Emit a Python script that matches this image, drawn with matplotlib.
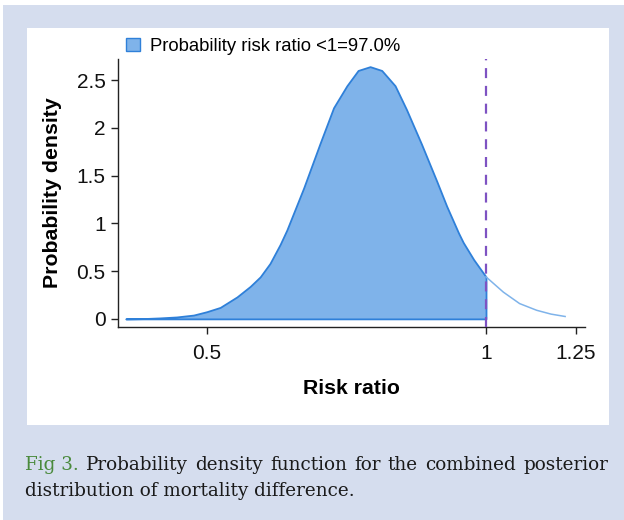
import matplotlib
matplotlib.use("Agg")
import matplotlib.pyplot as plt
from matplotlib.patches import Rectangle, Patch
import numpy as np

# ---- data ----
risk_ratio = [0.409, 0.427, 0.445, 0.464, 0.484, 0.500, 0.517, 0.539, 0.557, 0.571,
              0.585, 0.600, 0.610, 0.636, 0.662, 0.685, 0.708, 0.728, 0.750, 0.772,
              0.798, 0.821, 0.852, 0.885, 0.907, 0.934, 0.945, 0.970, 1.000, 1.044,
              1.087, 1.134, 1.175, 1.217]
density = [0.00, 0.003, 0.01, 0.02, 0.04, 0.075, 0.12, 0.23, 0.34, 0.44,
           0.58, 0.78, 0.93, 1.37, 1.83, 2.21, 2.44, 2.60, 2.64, 2.60,
           2.44, 2.19, 1.83, 1.44, 1.18, 0.90, 0.80, 0.62, 0.44, 0.28,
           0.16, 0.09, 0.05, 0.025]
threshold = 1.0
legend_label = "Probability risk ratio <1=97.0%"
x_ticks = [0.5, 1, 1.25]
x_ticklabels = ["0.5", "1", "1.25"]
y_ticks = [0, 0.5, 1, 1.5, 2, 2.5]
y_ticklabels = ["0", "0.5", "1", "1.5", "2", "2.5"]
xlabel = "Risk ratio"
ylabel = "Probability density"
caption_fig = "Fig 3."
caption_line1 = "Probability density function for the combined posterior"
caption_line2 = "distribution of mortality difference."

W, H = 624, 520
fig = plt.figure(figsize=(W / 100, H / 100), dpi=100)
fig.patch.set_facecolor("white")
bg = "#d5ddee"
fig.patches.append(Rectangle((3 / W, 0), 1, 1 - 5 / H, transform=fig.transFigure,
                             facecolor=bg, edgecolor="none", zorder=-10))
fig.patches.append(Rectangle((27 / W, 1 - 425 / H), (609 - 27) / W, (425 - 28) / H,
                             transform=fig.transFigure, facecolor="white",
                             edgecolor="none", zorder=-9))

sans = ["Liberation Sans", "DejaVu Sans"]
ax = fig.add_axes([118 / W, 1 - 327 / H, (585 - 118) / W, (327 - 59) / H])
ax.set_facecolor("none")

rr = np.array(risk_ratio)
dd = np.array(density)
fill_col = "#7fb3ea"
edge_col = "#2f80d9"
mask = rr <= threshold
ax.fill_between(rr[mask], dd[mask], 0, facecolor=fill_col, edgecolor=edge_col,
                linewidth=1.3, zorder=2)
tail = rr >= threshold
ax.plot(rr[tail], dd[tail], color="#7fb3ea", lw=1.1, zorder=2)
ax.axvline(threshold, color="#7e52c2", lw=1.6, dashes=(4.5, 3.5), zorder=3)

ax.set_xscale("log")
ax.set_xlim(0.4012, 1.2785)
ax.set_ylim(-0.085, 2.72)
ax.set_xticks(x_ticks)
ax.set_xticklabels(x_ticklabels)
ax.xaxis.set_minor_locator(matplotlib.ticker.NullLocator())
ax.set_yticks(y_ticks)
ax.set_yticklabels(y_ticklabels)
for s in ["top", "right"]:
    ax.spines[s].set_visible(False)
for s in ["left", "bottom"]:
    ax.spines[s].set_linewidth(1.0)
    ax.spines[s].set_color("#222222")
ax.tick_params(axis="both", length=5, width=1.0, color="#222222",
               labelsize=15, labelcolor="#111111")
ax.tick_params(axis="x", pad=7)
ax.tick_params(axis="y", pad=4)
for lab in ax.get_xticklabels() + ax.get_yticklabels():
    lab.set_fontfamily(sans)
ax.set_xlabel(xlabel, fontsize=15.3, fontweight="bold", family=sans, labelpad=12)
ax.set_ylabel(ylabel, fontsize=15.3, fontweight="bold", family=sans, labelpad=10)

handle = Patch(facecolor=fill_col, edgecolor=edge_col, linewidth=1.0)
fig.legend([handle], [legend_label], loc="center left",
           bbox_to_anchor=(126 / W, 1 - 46.5 / H), frameon=False,
           prop={"family": sans, "size": 13.3}, handlelength=0.75,
           handleheight=0.75, handletextpad=0.55, borderaxespad=0, borderpad=0)

# ---- caption (first line justified) ----
cap_font = {"family": ["DejaVu Serif"], "size": 13.2}
left_px, right_px = 25, 608
y1 = 1 - 470 / H
y2 = 1 - 496 / H
fig.canvas.draw()
renderer = fig.canvas.get_renderer()
words = [caption_fig] + caption_line1.split(" ")
colors = ["#4a8a3c"] + ["#1a1a1a"] * (len(words) - 1)
texts = []
widths = []
for w_, c_ in zip(words, colors):
    t = fig.text(0, y1, w_, color=c_, va="baseline", ha="left", **cap_font)
    texts.append(t)
    widths.append(t.get_window_extent(renderer).width)
gap = (right_px - left_px - sum(widths)) / (len(words) - 1)
x = left_px
for t, wdt in zip(texts, widths):
    t.set_x(x / W)
    x += wdt + gap
fig.text(left_px / W, y2, caption_line2, color="#1a1a1a", va="baseline",
         ha="left", **cap_font)

fig.savefig("out.png", dpi=100, facecolor=fig.get_facecolor())
